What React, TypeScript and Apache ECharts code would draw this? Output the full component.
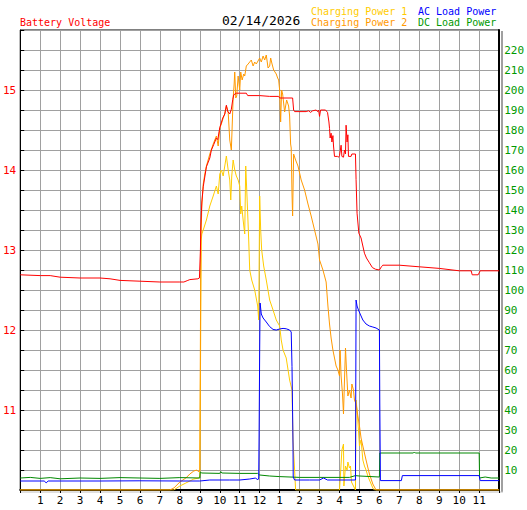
import React, { useEffect, useRef } from "react";
import * as echarts from "echarts";

// [hour of day, battery voltage (V)]
const batteryVoltage: [number, number][] = [
  [0, 12.69], [1, 12.68], [1.5, 12.68], [2, 12.66], [3, 12.65], [4, 12.65], [4.5, 12.64],
  [5, 12.62], [6, 12.61], [7, 12.6], [8, 12.6], [8.2, 12.6], [8.4, 12.62], [8.5, 12.63],
  [8.9, 12.64], [8.98, 12.65], [9.03, 13.0], [9.05, 13.3], [9.1, 13.6], [9.17, 13.79],
  [9.33, 14.04], [9.5, 14.15], [9.58, 14.25], [9.7, 14.32], [9.83, 14.4], [9.9, 14.38],
  [10.0, 14.53], [10.15, 14.65], [10.25, 14.7], [10.33, 14.81], [10.4, 14.73], [10.5, 14.7],
  [10.58, 14.76], [10.65, 14.88], [10.7, 14.94], [10.83, 14.96], [11.0, 14.96], [11.33, 14.96],
  [11.4, 14.93], [12.0, 14.93], [12.5, 14.92], [12.95, 14.92], [13.0, 14.9], [13.65, 14.9],
  [13.7, 14.75], [13.75, 14.73], [14.33, 14.73], [14.45, 14.74], [14.55, 14.72], [14.65, 14.74],
  [14.83, 14.75], [14.9, 14.73], [14.95, 14.75], [15.0, 14.67], [15.05, 14.75], [15.3, 14.75],
  [15.4, 14.72], [15.47, 14.6], [15.5, 14.52], [15.53, 14.4], [15.58, 14.46], [15.62, 14.35],
  [15.67, 14.43], [15.7, 14.3], [15.75, 14.17], [15.9, 14.17], [15.95, 14.16], [16.0, 14.18],
  [16.08, 14.31], [16.12, 14.17], [16.2, 14.16], [16.25, 14.25], [16.3, 14.2], [16.33, 14.56],
  [16.38, 14.35], [16.42, 14.44], [16.45, 14.17], [16.58, 14.17], [16.62, 14.2], [16.8, 14.2],
  [16.83, 13.88], [16.88, 13.46], [16.97, 13.21], [17.08, 13.15], [17.17, 13.05], [17.25, 12.96],
  [17.35, 12.9], [17.5, 12.84], [17.65, 12.78], [17.8, 12.76], [18.0, 12.75], [18.1, 12.79],
  [18.17, 12.81], [19.0, 12.81], [20.0, 12.79], [21.0, 12.77], [22.0, 12.74], [22.6, 12.74],
  [22.65, 12.69], [22.95, 12.69], [23.05, 12.74], [24.0, 12.74],
];

// [hour, watts]
const chargingPower1: [number, number][] = [
  [0, 0], [7.7, 0], [8.0, 2], [8.3, 3.5], [8.5, 4.5], [8.7, 5.5], [8.95, 6], [9.0, 7],
  [9.03, 55], [9.07, 125], [9.1, 128], [9.17, 130], [9.33, 135], [9.5, 142], [9.67, 147],
  [9.83, 152], [9.92, 148], [10.0, 158], [10.08, 160], [10.17, 157], [10.25, 162], [10.33, 167],
  [10.42, 160], [10.5, 155], [10.55, 145], [10.6, 157], [10.67, 165], [10.75, 160], [10.83, 157],
  [10.92, 155], [11.0, 152], [11.05, 138], [11.1, 142], [11.17, 135], [11.25, 128], [11.3, 162],
  [11.38, 143], [11.45, 125], [11.5, 110], [11.6, 105], [11.75, 100], [11.9, 92], [11.95, 85],
  [12.0, 147], [12.05, 130], [12.1, 120], [12.2, 112], [12.33, 105], [12.5, 95], [12.67, 90],
  [12.83, 85], [13.0, 82], [13.08, 75], [13.17, 70], [13.33, 66], [13.5, 55], [13.62, 50],
  [13.67, 25], [13.75, 10], [13.8, 0], [16.0, 0], [16.05, 8], [16.12, 20], [16.2, 23],
  [16.22, 2], [16.3, 12], [16.38, 10], [16.42, 14], [16.5, 11], [16.55, 12], [16.6, 4],
  [16.8, 0], [16.83, 45], [16.88, 40], [16.95, 30], [17.0, 22], [17.08, 25], [17.17, 15],
  [17.25, 12], [17.33, 10], [17.42, 7], [17.5, 5], [17.67, 1], [17.75, 0], [24, 0],
];

const chargingPower2: [number, number][] = [
  [0, 0], [7.5, 0], [7.7, 1], [8.0, 4], [8.3, 6], [8.5, 8], [8.7, 9.5], [8.85, 10], [8.95, 9],
  [9.0, 10], [9.05, 122], [9.1, 142], [9.17, 153], [9.25, 158], [9.33, 162], [9.5, 168],
  [9.67, 173], [9.83, 177], [9.92, 172], [10.0, 181], [10.08, 183], [10.17, 186], [10.25, 188],
  [10.33, 192], [10.42, 189], [10.5, 175], [10.58, 170], [10.67, 196], [10.72, 203], [10.75, 209],
  [10.8, 196], [10.85, 197], [10.92, 207], [11.0, 200], [11.05, 209], [11.12, 205], [11.2, 208],
  [11.25, 207], [11.33, 212], [11.42, 213], [11.5, 214], [11.58, 215], [11.67, 212], [11.75, 214],
  [11.83, 213], [12.0, 216], [12.08, 214], [12.17, 217], [12.25, 215], [12.33, 217.5], [12.42, 211],
  [12.5, 212], [12.55, 216], [12.62, 213], [12.7, 210], [12.83, 208], [12.9, 206], [12.95, 205],
  [13.0, 200], [13.05, 184], [13.1, 200], [13.15, 198], [13.25, 189], [13.35, 195], [13.45, 192],
  [13.5, 187], [13.55, 173], [13.58, 171], [13.62, 148], [13.65, 137], [13.7, 168], [13.8, 165],
  [13.92, 162], [14.08, 155], [14.25, 150], [14.42, 143], [14.58, 137], [14.75, 130], [14.92, 123],
  [15.0, 115], [15.17, 110], [15.33, 104], [15.42, 92], [15.5, 83], [15.58, 76], [15.67, 70],
  [15.75, 66], [15.83, 62], [15.92, 60], [16.0, 57], [16.03, 70], [16.08, 57], [16.15, 48],
  [16.2, 38], [16.25, 55], [16.3, 71], [16.35, 60], [16.42, 47], [16.5, 50], [16.58, 46],
  [16.62, 53], [16.7, 50], [16.75, 45], [16.83, 43], [16.92, 37], [17.0, 32], [17.08, 26],
  [17.17, 22], [17.33, 15], [17.5, 8], [17.67, 3], [17.83, 0], [24, 0],
];

const acLoadPower: [number, number][] = [
  [0, 4.5], [1.2, 4.5], [1.3, 3.6], [1.4, 4.5], [4, 4.5], [6, 4.6], [8, 4.5], [9, 4.5],
  [9.5, 5], [10.5, 5], [11.0, 5], [11.5, 5.5], [11.8, 6], [11.9, 5], [11.95, 6], [11.97, 27],
  [12.0, 71], [12.02, 93.5], [12.08, 88], [12.17, 86], [12.25, 85], [12.33, 84], [12.5, 81.7],
  [12.67, 80.3], [12.83, 80], [13.0, 80.5], [13.17, 80.8], [13.33, 80.6], [13.5, 80], [13.58, 79],
  [13.62, 61.7], [13.67, 23], [13.68, 6.5], [13.75, 5], [14.5, 5], [15.0, 5], [15.2, 6],
  [15.4, 5], [16.8, 5], [16.83, 95], [16.88, 92], [16.95, 90], [17.08, 87], [17.17, 85],
  [17.33, 83], [17.5, 82], [17.67, 81.5], [17.83, 81], [18.0, 80], [18.02, 43], [18.05, 4.7],
  [19.1, 4.7], [19.15, 7.2], [23.0, 7.2], [23.05, 4.7], [24, 4.7],
];

const dcLoadPower: [number, number][] = [
  [0, 6], [0.5, 6.3], [1, 5.8], [1.5, 6.2], [2, 5.6], [3, 6], [4, 5.8], [5, 6.2], [6, 6],
  [7, 5.8], [8, 6.2], [9.0, 6], [9.02, 9], [9.1, 8.5], [10.0, 8.3], [10.05, 9.2], [10.1, 8.5],
  [11.0, 8.3], [11.9, 8.3], [12.0, 7.5], [12.5, 7], [13.0, 6.7], [14.0, 6.3], [15.0, 6.3],
  [16.5, 6.3], [16.8, 7.2], [17.0, 7], [18.0, 6.5], [18.02, 18.5], [19.7, 18.5], [19.75, 19],
  [19.8, 18.5], [23.0, 18.5], [23.02, 6], [23.3, 6.5], [23.6, 6], [24, 6],
];

const hourTicks: string[] = ["", "1", "2", "3", "4", "5", "6", "7", "8", "9", "10", "11", "12",
  "1", "2", "3", "4", "5", "6", "7", "8", "9", "10", "11", ""];

const dateLabel = "02/14/2026";

const MONO = "DejaVu Sans Mono";

export default function App() {
  const ref = useRef<HTMLDivElement>(null);
  useEffect(() => {
    if (!ref.current) return;
    const chart = echarts.init(ref.current, null, { renderer: "svg" });
    const line = (name: string, data: [number, number][], color: string, yAxisIndex: number) => ({
      name,
      type: "line",
      data,
      yAxisIndex,
      symbol: "none",
      lineStyle: { color, width: 1 },
      itemStyle: { color },
      emphasis: { disabled: true },
    });
    chart.setOption({
      animation: false,
      backgroundColor: "#ffffff",
      textStyle: { fontFamily: MONO },
      grid: {
        left: 20, right: 27, top: 30, bottom: 20,
        show: true, borderColor: "#000", borderWidth: 1, backgroundColor: "transparent",
      },
      xAxis: {
        type: "value", min: 0, max: 24, interval: 1,
        axisLine: { lineStyle: { color: "#000", width: 2 } },
        axisTick: { show: true, inside: false, length: 3, lineStyle: { color: "#000" } },
        axisLabel: {
          color: "#000", fontSize: 11, fontFamily: MONO, margin: 5,
          formatter: (v: number) => hourTicks[Math.round(v)] ?? "",
        },
        splitLine: { show: true, lineStyle: { color: "#a0a0a0", width: 1 } },
      },
      yAxis: [
        {
          type: "value", min: 10, max: 15.75, interval: 0.25, position: "left",
          axisLine: { show: true, lineStyle: { color: "#000", width: 1 } },
          axisTick: { show: true, inside: true, length: 4, lineStyle: { color: "#000" } },
          axisLabel: {
            color: "#ff0000", fontSize: 11, fontFamily: MONO, margin: 4,
            formatter: (v: number) => (Math.abs(v - Math.round(v)) < 1e-6 && v >= 11 ? String(Math.round(v)) : ""),
          },
          splitLine: { show: true, lineStyle: { color: "#a0a0a0", width: 1 } },
        },
        {
          type: "value", min: 0, max: 230, interval: 10, position: "right",
          axisLine: { show: true, lineStyle: { color: "#000", width: 2 } },
          axisTick: { show: false },
          axisLabel: {
            color: "#009900", fontSize: 11, fontFamily: MONO, margin: 5,
            formatter: (v: number) => (v > 0 && v < 230 ? String(v) : ""),
          },
          splitLine: { show: false },
        },
      ],
      series: [
        line("Charging Power 1", chargingPower1, "#ffcc00", 1),
        line("Charging Power 2", chargingPower2, "#ff9900", 1),
        line("DC Load Power", dcLoadPower, "#008800", 1),
        line("AC Load Power", acLoadPower, "#0000ff", 1),
        line("Battery Voltage", batteryVoltage, "#ff0000", 0),
      ],
      graphic: [
        { type: "line", shape: { x1: 502, y1: 31, x2: 502, y2: 492 }, style: { stroke: "#a0a0a0", lineWidth: 2 }, silent: true },
        { type: "line", shape: { x1: 21, y1: 492, x2: 503, y2: 492 }, style: { stroke: "#c0c0c0", lineWidth: 1 }, silent: true },
        { type: "text", x: 20, y: 22.5, style: { text: "Battery Voltage", fill: "#ff0000", font: `10px "${MONO}"`, verticalAlign: "middle" } },
        { type: "text", x: 222, y: 20.5, style: { text: dateLabel, fill: "#000", font: `13px "${MONO}"`, verticalAlign: "middle" } },
        { type: "text", x: 311, y: 11, style: { text: "Charging Power 1", fill: "#ffcc00", font: `10px "${MONO}"`, verticalAlign: "middle" } },
        { type: "text", x: 311, y: 22.5, style: { text: "Charging Power 2", fill: "#ff9900", font: `10px "${MONO}"`, verticalAlign: "middle" } },
        { type: "text", x: 418, y: 11, style: { text: "AC Load Power", fill: "#0000ff", font: `10px "${MONO}"`, verticalAlign: "middle" } },
        { type: "text", x: 418, y: 22.5, style: { text: "DC Load Power", fill: "#009900", font: `10px "${MONO}"`, verticalAlign: "middle" } },
      ],
    });
    return () => chart.dispose();
  }, []);
  return <div ref={ref} style={{ width: 527, height: 510, position: "absolute", left: 0, top: 0 }} />;
}
